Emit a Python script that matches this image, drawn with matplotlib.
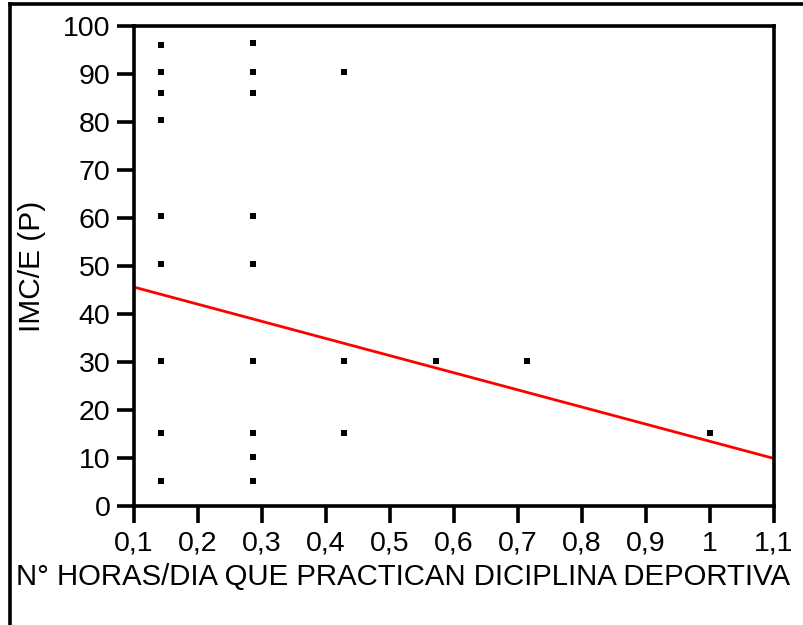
import numpy as np
import matplotlib
matplotlib.use("Agg")
import matplotlib.pyplot as plt
from matplotlib.lines import Line2D
from matplotlib.ticker import FuncFormatter

plt.rcParams['font.family'] = ['Liberation Sans', 'DejaVu Sans']

# horas/dia (dias por semana / 7) y percentil IMC/E de cada alumno
horas = [1/7]*9 + [2/7]*9 + [3/7]*3 + [4/7, 5/7, 1.0]
imc_p = [96, 90.5, 86, 80.5, 60.5, 50.5, 30.3, 15.3, 5.3,
         96.5, 90.5, 86, 60.5, 50.5, 30.3, 15.3, 10.3, 5.3,
         90.5, 30.3, 15.3,
         30.3, 30.3, 15.3]

# recta de regresion evaluada en los extremos del eje
fit_x = [0.1, 1.1]
fit_y = [45.6, 9.9]

xticks = [0.1, 0.2, 0.3, 0.4, 0.5, 0.6, 0.7, 0.8, 0.9, 1.0, 1.1]
yticks = [0, 10, 20, 30, 40, 50, 60, 70, 80, 90, 100]

fs = 20.5

fig = plt.figure(figsize=(8.04, 6.25), dpi=100)
ax = fig.add_axes([0.1667, 0.1904, 0.796, 0.768])

ax.plot(horas, imc_p, linestyle='none', marker='s', markersize=4.4,
        color='black', markeredgewidth=0)
ax.plot(fit_x, fit_y, color='#ff0000', linewidth=2.0)

ax.set_xlim(0.1, 1.1)
ax.set_ylim(0, 100)
ax.set_xticks(xticks)
ax.set_yticks(yticks)
ax.xaxis.set_major_formatter(FuncFormatter(lambda v, p: f"{v:g}".replace('.', ',')))

for s in ax.spines.values():
    s.set_linewidth(2.6)
ax.tick_params(axis='both', direction='out', length=12, width=2.6,
               labelsize=fs, colors='black')
ax.tick_params(axis='x', pad=6)
ax.tick_params(axis='y', pad=5)

# titulo del eje x centrado en la figura, no en los ejes
fig.text(0.501, 0.077, "N° HORAS/DIA QUE PRACTICAN DICIPLINA DEPORTIVA",
         fontsize=21.2, ha='center', va='center')
ax.set_ylabel("IMC/E (P)", fontsize=21.5, labelpad=12)

# marco exterior (solo izquierda y arriba)
fig.add_artist(Line2D([0.0125, 0.0125], [0.0, 0.993], transform=fig.transFigure,
                      color='black', linewidth=2.6))
fig.add_artist(Line2D([0.0125, 1.0], [0.993, 0.993], transform=fig.transFigure,
                      color='black', linewidth=2.6))

fig.savefig("out.png", dpi=100)
